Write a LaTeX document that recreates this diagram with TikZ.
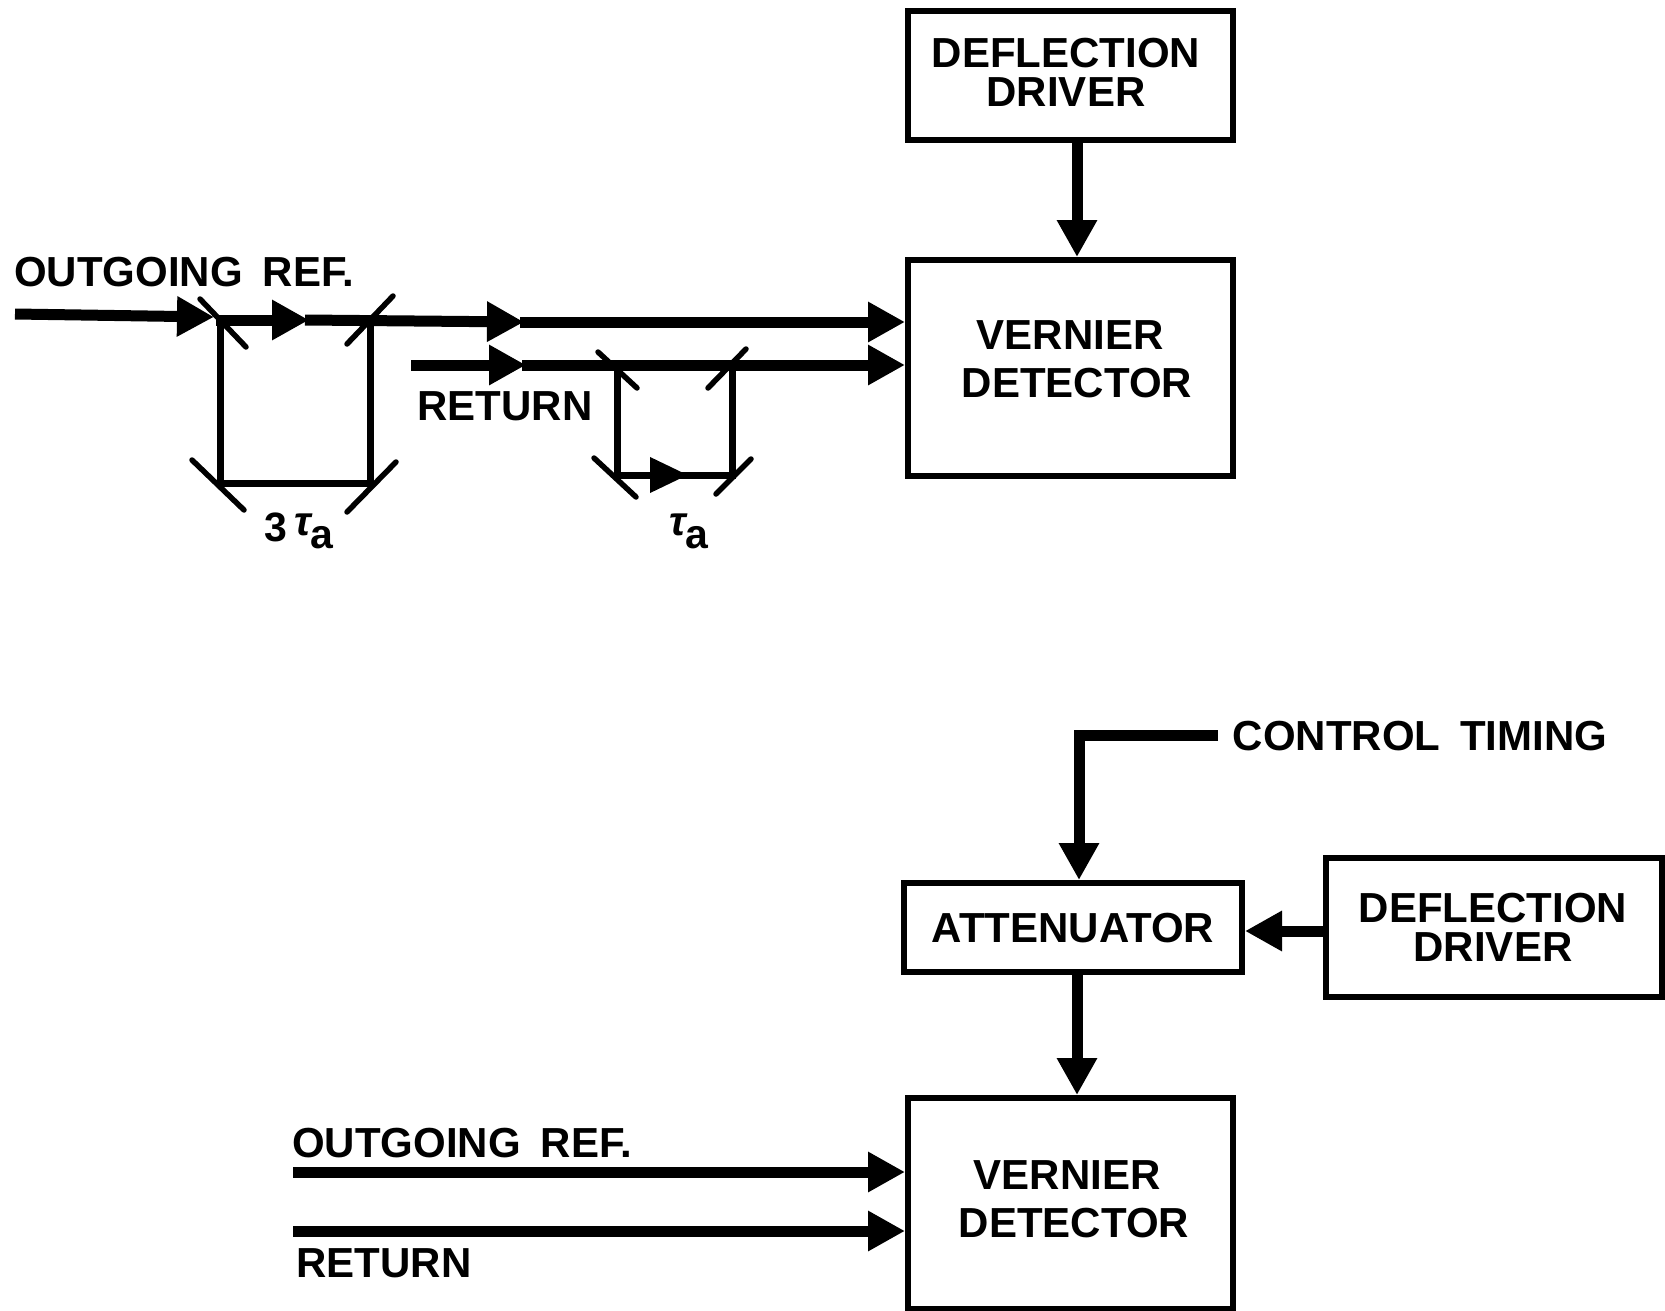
\documentclass[tikz,border=0pt]{standalone}
\usepackage{fontspec}
\setmainfont[WordSpace=1.7]{Liberation Sans}
\usetikzlibrary{arrows.meta}
\tikzset{
  framebox/.style={draw,rectangle,line width=6pt,inner sep=0pt,fill=white},
  lbl/.style={inner sep=0pt,align=center,font=\fontsize{42}{39}\selectfont\bfseries},
  lblwide/.style={inner sep=0pt,align=center,font=\fontsize{42}{48}\selectfont\bfseries},
  lblgreek/.style={inner sep=0pt,align=center,font=\fontsize{41}{41}\selectfont\bfseries},
  beam/.style={line width=11pt,-{Triangle[length=37pt,width=38pt]}},
  feed/.style={line width=11pt,-{Triangle[length=37pt,width=38pt]}},
  plainbeam/.style={line width=7pt},
  mirror/.style={line width=5.5pt,line cap=round},
}
\begin{document}
\begin{tikzpicture}[x=1pt,y=-1pt]
\path[fill=white] (0,0) rectangle (1665,1311);
\useasboundingbox (0,0) rectangle (1665,1311);
% blocks
\node[framebox,minimum width=325pt,minimum height=129pt] (drv1) at (1070.5,75.5) {};
\node[framebox,minimum width=325pt,minimum height=216pt] (det1) at (1070.5,368) {};
\node[framebox,minimum width=338pt,minimum height=89pt] (att) at (1073,927.5) {};
\node[framebox,minimum width=336pt,minimum height=139pt] (drv2) at (1494,927.5) {};
\node[framebox,minimum width=325pt,minimum height=211pt] (det2) at (1070.5,1203.5) {};
% block labels
\node[lbl] (tdrv1) at (1066,72) {DEFLECTION\\DRIVER};
\node[lblwide] (tdet1) at (1077,359) {\hspace*{-14pt}VERNIER\\DETECTOR};
\node[lbl] (tatt) at (1073,928) {ATTENUATOR};
\node[lbl] (tdrv2) at (1493,927) {DEFLECTION\\DRIVER};
\node[lblwide] (tdet2) at (1074,1199) {\hspace*{-14pt}VERNIER\\DETECTOR};
% free labels
\node[lbl] (tout1) at (184,272) {OUTGOING REF.};
\node[lbl] (tret1) at (505,406) {RETURN};
\node[lbl] (tctl) at (1420,736) {CONTROL TIMING};
\node[lbl] (tout2) at (462,1143) {OUTGOING REF.};
\node[lbl] (tret2) at (384,1263) {RETURN};
\node[lblgreek] (t3a) at (299,531) {3\,\raisebox{6pt}{\itshape τ}\raisebox{-7pt}{a}};
\node[lblgreek] (t1a) at (689,531) {\raisebox{6pt}{\itshape τ}\raisebox{-7pt}{a}};
% top path coordinates
\coordinate (o0) at (15,314);
\coordinate (o1) at (214,317);
\coordinate (o2) at (216,320);
\coordinate (o3) at (309,320);
\coordinate (o4) at (305,320);
\coordinate (o5) at (524,322);
\coordinate (o6) at (520,322);
\coordinate (r0) at (411,365);
\coordinate (r1) at (526,365);
\coordinate (r2) at (522,365);
\coordinate (a) at (220,318);
\coordinate (b) at (220,483);
\coordinate (c) at (370,483);
\coordinate (d) at (370,322);
\coordinate (e) at (617,365);
\coordinate (f) at (617,475);
\coordinate (g) at (732,475);
\coordinate (h) at (732,365);
\coordinate (i) at (688,475);
% mirrors
\coordinate (m1a) at (200,299); \coordinate (m1b) at (246,347);
\coordinate (m2a) at (393,296); \coordinate (m2b) at (347,344);
\coordinate (m3a) at (192,460); \coordinate (m3b) at (244,510);
\coordinate (m4a) at (396,462); \coordinate (m4b) at (347,512);
\coordinate (m5a) at (598,352); \coordinate (m5b) at (637,388);
\coordinate (m6a) at (746,349); \coordinate (m6b) at (708,388);
\coordinate (m7a) at (594,458); \coordinate (m7b) at (636,497);
\coordinate (m8a) at (751,459); \coordinate (m8b) at (716,494);
\foreach \n in {1,...,8} \draw[mirror] (m\n a) -- (m\n b);
% loops
\draw[plainbeam,line join=miter] (a) -- (b) -- (c) -- (d);
\draw[plainbeam,line join=miter] (e) -- (f) -- (g) -- (h);
\draw[line width=7pt,-{Triangle[length=38pt,width=34pt]}] (f) -- (i);
% top beams
\draw[beam] (o0) -- (o1);
\draw[beam] (o2) -- (o3);
\draw[beam] (o4) -- (o5);
\draw[beam] (r0) -- (r1);
\draw[beam] (o6) -- (det1.west |- o6);
\draw[beam] (r2) -- (det1.west |- r2);
\draw[feed] (drv1.south -| 1077,0) -- (det1.north -| 1077,0);
% bottom
\coordinate (ctl0) at (1218,735);
\coordinate (ctl1) at (1079,735);
\coordinate (o7) at (293,1172);
\coordinate (r7) at (293,1231);
\draw[feed,line join=miter] (ctl0) -- (ctl1) -- (att.north -| ctl1);
\draw[feed] (drv2.west |- 0,931) -- (att.east |- 0,931);
\draw[feed] (att.south -| 1077,0) -- (det2.north -| 1077,0);
\draw[beam] (o7) -- (det2.west |- o7);
\draw[beam] (r7) -- (det2.west |- r7);
\end{tikzpicture}
\end{document}
